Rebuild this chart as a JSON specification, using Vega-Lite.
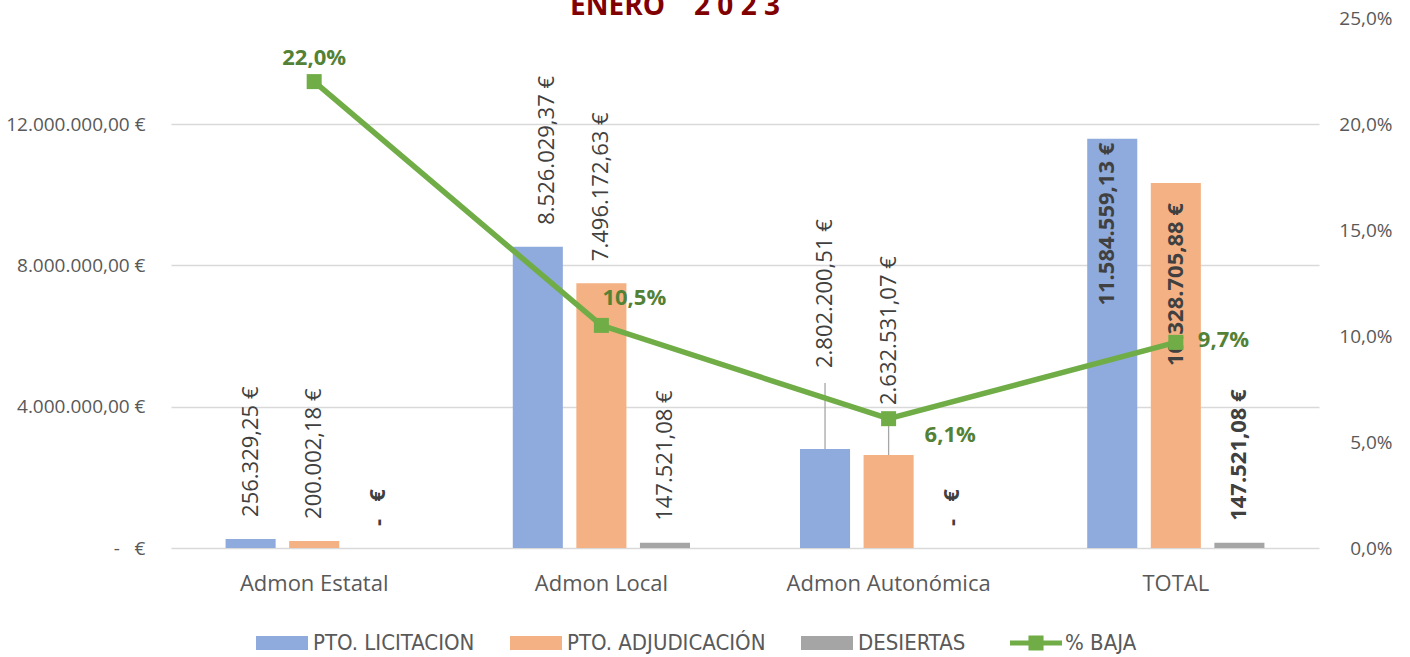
{
  "$schema": "https://vega.github.io/schema/vega-lite/v6.json",
  "width": 1148,
  "height": 530,
  "autosize": {"type": "none"},
  "padding": {"left": 171, "top": 18, "right": 91, "bottom": 109},
  "background": "white",
  "config": {
    "locale": {"number": {"decimal": ",", "thousands": ".", "grouping": [3], "currency": ["", "\u00a0€"]}},
    "view": {"stroke": null},
    "font": "Open Sans"
  },
  "title": {
    "text": "ENERO\u00a0\u00a0\u00a0\u00a02\u00a00\u00a02\u00a03",
    "color": "#800000",
    "font": "Open Sans",
    "fontSize": 28,
    "fontWeight": "bold",
    "anchor": "middle",
    "baseline": "alphabetic",
    "offset": 2,
    "dx": -70,
    "dy": 36
  },
  "datasets": {
    "montos": [
      {"cat": "Admon Estatal", "serie": "PTO. LICITACION", "value": 256329.25},
      {"cat": "Admon Estatal", "serie": "PTO. ADJUDICACIÓN", "value": 200002.18},
      {"cat": "Admon Estatal", "serie": "DESIERTAS", "value": 0},
      {"cat": "Admon Local", "serie": "PTO. LICITACION", "value": 8526029.37},
      {"cat": "Admon Local", "serie": "PTO. ADJUDICACIÓN", "value": 7496172.63},
      {"cat": "Admon Local", "serie": "DESIERTAS", "value": 147521.08},
      {"cat": "Admon Autonómica", "serie": "PTO. LICITACION", "value": 2802200.51},
      {"cat": "Admon Autonómica", "serie": "PTO. ADJUDICACIÓN", "value": 2632531.07},
      {"cat": "Admon Autonómica", "serie": "DESIERTAS", "value": 0},
      {"cat": "TOTAL", "serie": "PTO. LICITACION", "value": 11584559.13},
      {"cat": "TOTAL", "serie": "PTO. ADJUDICACIÓN", "value": 10328705.88},
      {"cat": "TOTAL", "serie": "DESIERTAS", "value": 147521.08}
    ],
    "baja": [
      {"cat": "Admon Estatal", "serie": "% BAJA", "baja": 0.22},
      {"cat": "Admon Local", "serie": "% BAJA", "baja": 0.105},
      {"cat": "Admon Autonómica", "serie": "% BAJA", "baja": 0.061},
      {"cat": "TOTAL", "serie": "% BAJA", "baja": 0.097}
    ]
  },
  "encoding": {
    "x": {
      "field": "cat",
      "type": "nominal",
      "sort": ["Admon Estatal", "Admon Local", "Admon Autonómica", "TOTAL"],
      "scale": {"domain": ["Admon Estatal", "Admon Local", "Admon Autonómica", "TOTAL"], "paddingInner": 0.383, "paddingOuter": 0.19},
      "axis": {
        "title": null,
        "labelAngle": 0,
        "labelFont": "Open Sans",
        "labelFontSize": 22,
        "labelColor": "#595959",
        "labelBaseline": "alphabetic",
        "labelPadding": 42,
        "labelLimit": 400,
        "ticks": false,
        "domain": false,
        "grid": false
      }
    }
  },
  "layer": [
    {
      "data": {"name": "montos"},
      "encoding": {
        "xOffset": {
          "field": "serie",
          "type": "nominal",
          "sort": ["PTO. LICITACION", "PTO. ADJUDICACIÓN", "DESIERTAS"],
          "scale": {"domain": ["PTO. LICITACION", "PTO. ADJUDICACIÓN", "DESIERTAS"], "paddingInner": 0.2126, "paddingOuter": 0}
        },
        "y": {
          "field": "value",
          "type": "quantitative",
          "scale": {"domain": [0, 15000000], "nice": false, "zero": true},
          "axis": {
            "title": null,
            "orient": "left",
            "values": [0, 4000000, 8000000, 12000000],
            "labelExpr": "datum.value === 0 ? '-\u00a0\u00a0\u00a0€' : format(datum.value, '$,.2f')",
            "labelFont": "Open Sans",
            "labelFontSize": 19,
            "labelColor": "#595959",
            "labelPadding": 26,
            "ticks": false,
            "domain": false,
            "grid": true,
            "gridColor": "#D9D9D9",
            "gridWidth": 1.3
          }
        }
      },
      "layer": [
        {
          "mark": {"type": "bar"},
          "encoding": {
            "color": {
              "field": "serie",
              "type": "nominal",
              "scale": {"domain": ["PTO. LICITACION", "PTO. ADJUDICACIÓN", "DESIERTAS"], "range": ["#8FAADC", "#F4B183", "#A5A5A5"]},
              "legend": {
                "title": null,
                "orient": "none",
                "legendX": 85,
                "legendY": 599,
                "direction": "horizontal",
                "symbolType": "M-1,-0.27H1V0.27H-1Z",
                "symbolSize": 2704,
                "symbolStrokeWidth": 0,
                "labelFont": "DejaVu Sans Condensed, Liberation Sans, sans-serif",
                "labelFontSize": 22,
                "labelColor": "#595959",
                "labelOffset": 5,
                "labelLimit": 400,
                "columnPadding": 35,
                "padding": 0
              }
            }
          }
        },
        {
          "transform": [{"filter": "datum.cat === 'Admon Autonómica' && datum.serie === 'PTO. LICITACION'"}],
          "mark": {"type": "rule", "color": "#A6A6A6", "strokeWidth": 1.3},
          "encoding": {"y2": {"datum": 4670000}}
        },
        {
          "transform": [{"filter": "datum.cat === 'Admon Autonómica' && datum.serie === 'PTO. ADJUDICACIÓN'"}],
          "mark": {"type": "rule", "color": "#A6A6A6", "strokeWidth": 1.3},
          "encoding": {"y2": {"datum": 3680000}}
        },
        {
          "mark": {
            "type": "text",
            "angle": 270,
            "baseline": "middle",
            "font": "Open Sans",
            "fontSize": 22,
            "color": "#404040",
            "align": {"expr": "datum.cat === 'TOTAL' && datum.serie !== 'DESIERTAS' ? 'right' : 'left'"},
            "fontWeight": {"expr": "datum.cat === 'TOTAL' || datum.value === 0 ? 'bold' : 'normal'"},
            "dx": {"expr": "datum.cat === 'TOTAL' && datum.serie === 'PTO. LICITACION' ? -4 : datum.cat === 'TOTAL' && datum.serie === 'PTO. ADJUDICACIÓN' ? -20 : datum.cat === 'Admon Autonómica' && datum.serie === 'PTO. LICITACION' ? 81 : datum.cat === 'Admon Autonómica' && datum.serie === 'PTO. ADJUDICACIÓN' ? 50 : 22"},
            "dy": {"expr": "datum.cat === 'Admon Local' && datum.serie === 'PTO. LICITACION' ? 9 : datum.cat === 'TOTAL' && datum.serie === 'PTO. LICITACION' ? -5 : 0"}
          },
          "encoding": {
            "text": {"condition": {"test": "datum.value === 0", "value": "-\u00a0\u00a0\u00a0€"}, "field": "value", "type": "quantitative", "format": "$,.2f"}
          }
        }
      ]
    },
    {
      "data": {"name": "baja"},
      "encoding": {
        "y": {
          "field": "baja",
          "type": "quantitative",
          "scale": {"domain": [0, 0.25], "nice": false, "zero": true},
          "axis": {
            "title": null,
            "orient": "right",
            "values": [0, 0.05, 0.1, 0.15, 0.2, 0.25],
            "format": ".1%",
            "labelFont": "Open Sans",
            "labelFontSize": 19,
            "labelColor": "#595959",
            "labelAlign": "right",
            "labelPadding": 73,
            "ticks": false,
            "domain": false,
            "grid": false
          }
        }
      },
      "layer": [
        {
          "mark": {"type": "line", "color": "#70AD47", "strokeWidth": 5.5}
        },
        {
          "mark": {"type": "point", "shape": "square", "filled": true, "size": 225, "opacity": 1},
          "encoding": {
            "fill": {
              "field": "serie",
              "type": "nominal",
              "scale": {"domain": ["% BAJA"], "range": ["#70AD47"]},
              "legend": {
                "title": null,
                "orient": "none",
                "legendX": 839,
                "legendY": 599,
                "symbolType": "M-1,-0.1H1V0.1H-1Z M-0.29,-0.29H0.29V0.29H-0.29Z",
                "symbolSize": 2704,
                "symbolStrokeWidth": 0,
                "symbolOpacity": 1,
                "labelFont": "DejaVu Sans Condensed, Liberation Sans, sans-serif",
                "labelFontSize": 22,
                "labelColor": "#595959",
                "labelOffset": 3,
                "labelLimit": 400,
                "padding": 0
              }
            }
          }
        },
        {
          "mark": {
            "type": "text",
            "font": "Open Sans",
            "fontSize": 22,
            "fontWeight": "bold",
            "color": "#538135",
            "baseline": "alphabetic",
            "align": {"expr": "datum.cat === 'Admon Estatal' ? 'center' : 'left'"},
            "dx": {"expr": "datum.cat === 'Admon Estatal' ? 0 : datum.cat === 'Admon Local' ? 1 : datum.cat === 'Admon Autonómica' ? 36 : 22"},
            "dy": {"expr": "datum.cat === 'Admon Estatal' ? -17 : datum.cat === 'Admon Local' ? -20 : datum.cat === 'Admon Autonómica' ? 23 : 5"}
          },
          "encoding": {
            "text": {"field": "baja", "type": "quantitative", "format": ".1%"}
          }
        }
      ]
    }
  ],
  "resolve": {"scale": {"y": "independent"}, "axis": {"y": "independent"}}
}
